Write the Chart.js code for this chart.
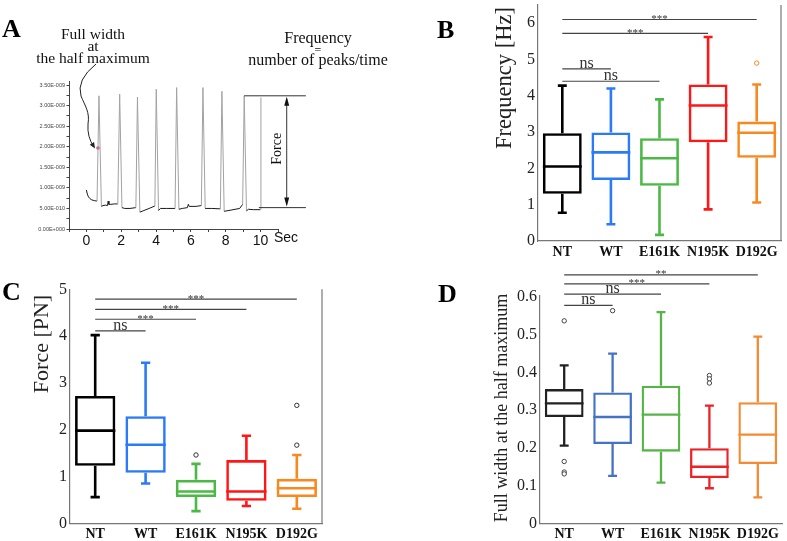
<!DOCTYPE html>
<html>
<head>
<meta charset="utf-8">
<script src="https://cdn.jsdelivr.net/npm/chart.js@4.4.1/dist/chart.umd.min.js"></script>
<style>
  body { margin: 0; background: #fff; }
  #wrap { position: relative; width: 787px; height: 541px; }
  canvas { position: absolute; }
</style>
</head>
<body>
<div id="wrap">
  <canvas id="cA" width="400" height="260" style="left:0;top:0"></canvas>
  <canvas id="cB" width="387" height="260" style="left:400px;top:0"></canvas>
  <canvas id="cC" width="400" height="281" style="left:0;top:260px"></canvas>
  <canvas id="cD" width="387" height="281" style="left:400px;top:260px"></canvas>
</div>
<script>
const groups = ['NT', 'WT', 'E161K', 'N195K', 'D192G'];

// Panel A: example trace, force in units of 1E-009
const traceTime = [0.00, 0.05, 0.12, 0.20, 0.30, 0.45, 0.61, 0.72, 0.86, 0.95, 1.10, 1.21, 1.25, 1.29, 1.40, 1.60, 1.80,
  1.91, 2.04, 2.20, 2.50, 2.84, 2.93, 3.07, 3.30, 3.60, 3.93, 4.01, 4.14, 4.25, 4.60, 5.09, 5.18, 5.31, 5.50, 5.80,
  5.85, 5.90, 6.30, 6.60, 6.69, 6.82, 7.20, 7.69, 7.78, 7.91, 8.30, 8.80, 8.97, 9.06, 9.19, 9.30, 9.60, 9.97, 10.02];
const traceForce = [0.95, 0.85, 0.78, 0.74, 0.71, 0.69, 0.68, 3.24, 0.55, 0.57, 0.58, 0.57, 0.68, 0.60, 0.60, 0.61, 0.61,
  3.28, 0.52, 0.50, 0.50, 0.52, 3.21, 0.41, 0.45, 0.50, 0.56, 3.40, 0.45, 0.50, 0.50, 0.50, 3.44, 0.48, 0.50, 0.52,
  0.60, 0.55, 0.55, 0.57, 3.44, 0.50, 0.50, 0.49, 3.35, 0.43, 0.46, 0.50, 0.60, 3.24, 0.44, 0.48, 0.47, 0.47, 3.20];
const halfMaxPoint = { x: 0.665, y: 1.97 };
const traceXTicks = [-1, 0, 1, 2, 3, 4, 5, 6, 7, 8, 9, 10, 11];
const traceXLabels = ['', '0', '', '2', '', '4', '', '6', '', '8', '', '10', ''];
const traceYTicks = [0, 0.25, 0.5, 0.75, 1, 1.25, 1.5, 1.75, 2, 2.25, 2.5, 2.75, 3, 3.25, 3.5];
const traceYLabels = ['0.00E+000', '', '5.00E-010', '', '1.00E-009', '', '1.50E-009', '', '2.00E-009', '',
  '2.50E-009', '', '3.00E-009', '', '3.50E-009'];

// Panel B: frequency [Hz]
const freqMin = [0.78, 0.46, 0.17, 0.87, 1.06];
const freqQ1 = [1.30, 1.68, 1.52, 2.72, 2.29];
const freqMed = [2.05, 2.44, 2.28, 3.73, 2.98];
const freqQ3 = [2.97, 2.99, 2.83, 4.31, 3.29];
const freqMax = [4.28, 4.20, 3.90, 5.62, 4.31];
const freqOutliers = [{ x: 'D192G', y: 4.90 }];
const freqTicks = [0, 1, 2, 3, 4, 5, 6];
const freqTickLabels = ['0', '1', '2', '3', '4', '5', '6'];
const freqSigTo = [4, 3, 1, 2];
const freqSigY = [6.10, 5.72, 4.74, 4.40];
const freqSigText = ['***', '***', 'ns', 'ns'];

// Panel C: force [PN]
const forceMin = [0.56, 0.85, 0.26, 0.37, 0.31];
const forceQ1 = [1.23, 1.08, 0.56, 0.48, 0.56];
const forceMed = [1.98, 1.68, 0.68, 0.68, 0.75];
const forceQ3 = [2.72, 2.29, 0.93, 1.35, 0.95];
const forceMax = [4.02, 3.43, 1.27, 1.87, 1.46];
const forceOutliers = [{ x: 'E161K', y: 1.46 }, { x: 'D192G', y: 2.52 }, { x: 'D192G', y: 1.67 }];
const forceTicks = [0, 1, 2, 3, 4, 5];
const forceTickLabels = ['0', '1', '2', '3', '4', '5'];
const forceSigTo = [4, 3, 2, 1];
const forceSigY = [4.79, 4.57, 4.36, 4.11];
const forceSigText = ['***', '***', '***', 'ns'];

// Panel D: full width at the half maximum
const fwhmMin = [0.206, 0.126, 0.108, 0.093, 0.069];
const fwhmQ1 = [0.282, 0.210, 0.190, 0.120, 0.157];
const fwhmMed = [0.318, 0.282, 0.288, 0.150, 0.235];
const fwhmQ3 = [0.356, 0.347, 0.365, 0.199, 0.321];
const fwhmMax = [0.419, 0.450, 0.560, 0.312, 0.495];
const fwhmOutliers = [{ x: 'NT', y: 0.537 }, { x: 'NT', y: 0.164 }, { x: 'NT', y: 0.136 }, { x: 'NT', y: 0.131 },
  { x: 'WT', y: 0.564 }, { x: 'N195K', y: 0.392 }, { x: 'N195K', y: 0.383 }, { x: 'N195K', y: 0.372 }];
const fwhmTicks = [0, 0.1, 0.2, 0.3, 0.4, 0.5, 0.6];
const fwhmTickLabels = ['0', '0.1', '0.2', '0.3', '0.4', '0.5', '0.6'];
const fwhmSigTo = [4, 3, 2, 1];
const fwhmSigY = [0.659, 0.635, 0.608, 0.578];
const fwhmSigText = ['**', '***', 'ns', 'ns'];

const serif = "'Liberation Serif', 'Times New Roman', serif";
const sans = "'Liberation Sans', Arial, sans-serif";
const brightColors = ['#000000', '#2b7bf7', '#4cb946', '#ff1616', '#f7891f'];
const softColors = ['#222222', '#4472c4', '#55b546', '#ec2227', '#f58a32'];

function drawLetter(ctx, ch, x, y) {
  ctx.save();
  ctx.font = `bold 26px ${serif}`;
  ctx.fillStyle = '#000';
  ctx.textAlign = 'left';
  ctx.textBaseline = 'alphabetic';
  ctx.fillText(ch, x, y);
  ctx.restore();
}

function arrowHead(ctx, x, y, ang, len, half) {
  ctx.beginPath();
  ctx.moveTo(x, y);
  ctx.lineTo(x - len * Math.cos(ang) + half * Math.sin(ang), y - len * Math.sin(ang) - half * Math.cos(ang));
  ctx.lineTo(x - len * Math.cos(ang) - half * Math.sin(ang), y - len * Math.sin(ang) + half * Math.cos(ang));
  ctx.closePath();
  ctx.fill();
}

// ---------- Panel A ----------
const annotA = {
  id: 'annotA',
  afterDraw(chart) {
    const { ctx, scales: { x, y } } = chart;
    ctx.save();
    ctx.fillStyle = '#111';
    ctx.textAlign = 'center';
    ctx.textBaseline = 'middle';
    ctx.font = `15.5px ${serif}`;
    ctx.fillText('Full width', 93, 35);
    ctx.fillText('at', 93, 47);
    ctx.fillText('the half maximum', 93, 59);
    ctx.font = `16px ${serif}`;
    ctx.fillText('Frequency', 318, 39);
    ctx.fillText('number of peaks/time', 318, 61);
    ctx.font = `12px ${serif}`;
    ctx.fillText('=', 318, 51);

    // curved arrow to the half-maximum point
    const ex = x.getPixelForValue(halfMaxPoint.x) - 4;
    const ey = y.getPixelForValue(halfMaxPoint.y) - 1;
    ctx.strokeStyle = '#222';
    ctx.lineWidth = 1;
    ctx.beginPath();
    ctx.moveTo(96, 64);
    ctx.quadraticCurveTo(76, 80, 81, 96);
    ctx.bezierCurveTo(85, 106, 90, 112, 88, 124);
    ctx.quadraticCurveTo(87, 137, ex, ey);
    ctx.stroke();
    ctx.fillStyle = '#222';
    arrowHead(ctx, ex + 1, ey + 1.5, Math.atan2(ey - 137, ex - 88), 6, 2.5);

    // force bracket
    const yTop = y.getPixelForValue(3.24), yBot = y.getPixelForValue(0.52);
    ctx.strokeStyle = '#333';
    ctx.beginPath();
    ctx.moveTo(x.getPixelForValue(9.06), yTop); ctx.lineTo(x.getPixelForValue(12.6), yTop);
    ctx.moveTo(x.getPixelForValue(9.9), yBot); ctx.lineTo(x.getPixelForValue(12.6), yBot);
    const ax = x.getPixelForValue(11.5);
    ctx.moveTo(ax, yTop + 3); ctx.lineTo(ax, yBot - 3);
    ctx.stroke();
    ctx.fillStyle = '#111';
    arrowHead(ctx, ax, yTop + 1, -Math.PI / 2, 9, 2.5);
    arrowHead(ctx, ax, yBot - 1, Math.PI / 2, 9, 2.5);
    ctx.save();
    ctx.translate(x.getPixelForValue(10.95), y.getPixelForValue(1.95));
    ctx.rotate(-Math.PI / 2);
    ctx.font = `14px ${serif}`;
    ctx.fillText('Force', 0, 0);
    ctx.restore();

    ctx.font = `14px ${sans}`;
    ctx.fillStyle = '#111';
    ctx.fillText('Sec', 286, 238.5);
    ctx.restore();
    drawLetter(ctx, 'A', 2, 37);
  }
};

new Chart(document.getElementById('cA'), {
  type: 'line',
  data: {
    datasets: [{
      data: traceTime.map((t, i) => ({ x: t, y: traceForce[i] })),
      borderWidth: 1,
      pointRadius: 0,
      tension: 0,
      segment: {
        borderColor: c => (c.p0.parsed.y < 1 && c.p1.parsed.y < 1) ? '#1a1a1a' : '#a2a2a2'
      }
    }, {
      data: [halfMaxPoint],
      showLine: false,
      pointRadius: 1.8,
      pointBorderWidth: 0,
      pointBackgroundColor: '#e23c8c'
    }]
  },
  options: {
    responsive: false,
    animation: false,
    layout: { padding: { left: 0, top: 81, right: 122, bottom: 0 } },
    plugins: { legend: { display: false }, tooltip: { enabled: false } },
    scales: {
      x: {
        type: 'linear', min: -1, max: 11,
        afterBuildTicks: s => { s.ticks = traceXTicks.map(v => ({ value: v })); },
        afterFit: s => { s.height = 31; s.paddingLeft = 0; s.paddingRight = 0; },
        grid: { display: true, drawOnChartArea: false, drawTicks: true, tickLength: 3, color: '#444' },
        border: { display: true, color: '#444', width: 1 },
        ticks: { padding: 1, color: '#111', font: { family: sans, size: 14 }, maxRotation: 0, autoSkip: false,
          callback: (v, i) => traceXLabels[i] }
      },
      y: {
        min: 0, max: 3.6,
        afterBuildTicks: s => { s.ticks = traceYTicks.map(v => ({ value: v })); },
        afterFit: s => { s.width = 69; s.paddingTop = 0; s.paddingBottom = 0; },
        grid: { display: true, drawOnChartArea: false, drawTicks: true, tickLength: 2.5, color: '#444' },
        border: { display: true, color: '#444', width: 1 },
        ticks: { padding: 1.5, color: '#444', font: { family: sans, size: 5.5 }, autoSkip: false,
          callback: (v, i) => traceYLabels[i] }
      }
    }
  },
  plugins: [annotA]
});

// ---------- Box plot panels ----------
function boxChart(id, s) {
  const canvas = document.getElementById(id);
  const W = canvas.width, H = canvas.height;
  const extras = {
    id: 'extras',
    afterDatasetsDraw(chart) {
      const { ctx, scales: { x, y }, chartArea } = chart;
      const bars = chart.getDatasetMeta(0).data;
      ctx.save();
      ctx.lineWidth = s.lw;
      bars.forEach((bar, i) => {
        const cx = bar.x, hw = bar.width / 2, cw = bar.width * 0.115;
        const yMin = y.getPixelForValue(s.min[i]), yMax = y.getPixelForValue(s.max[i]);
        const yQ1 = y.getPixelForValue(s.q1[i]), yQ3 = y.getPixelForValue(s.q3[i]);
        const yMed = y.getPixelForValue(s.med[i]);
        ctx.strokeStyle = s.colors[i];
        ctx.beginPath();
        ctx.moveTo(cx, yQ3); ctx.lineTo(cx, yMax);
        ctx.moveTo(cx - cw, yMax); ctx.lineTo(cx + cw, yMax);
        ctx.moveTo(cx, yQ1); ctx.lineTo(cx, yMin);
        ctx.moveTo(cx - cw, yMin); ctx.lineTo(cx + cw, yMin);
        ctx.moveTo(cx - hw, yMed); ctx.lineTo(cx + hw, yMed);
        ctx.stroke();
      });

      // significance bars
      ctx.strokeStyle = '#444';
      ctx.lineWidth = 1.2;
      ctx.fillStyle = '#333';
      ctx.textAlign = 'center';
      ctx.textBaseline = 'alphabetic';
      s.sigTo.forEach((t, k) => {
        const x0 = x.getPixelForValue(0), x1 = x.getPixelForValue(t);
        const yy = y.getPixelForValue(s.sigY[k]);
        ctx.beginPath(); ctx.moveTo(x0, yy); ctx.lineTo(x1, yy); ctx.stroke();
        const star = s.sigText[k] !== 'ns';
        ctx.font = star ? `11px ${serif}` : `16px ${serif}`;
        ctx.fillText(s.sigText[k], (x0 + x1) / 2, star ? yy + 2.5 : yy - 1);
      });

      if (s.rightBorder) {
        ctx.strokeStyle = '#777';
        ctx.lineWidth = 1.2;
        ctx.beginPath();
        ctx.moveTo(chartArea.right, chartArea.top);
        ctx.lineTo(chartArea.right, chartArea.bottom);
        ctx.stroke();
      }

      ctx.save();
      ctx.translate(s.titleX, s.titleY);
      ctx.rotate(-Math.PI / 2);
      ctx.font = `${s.titleSize}px ${serif}`;
      ctx.fillStyle = '#222';
      ctx.textBaseline = 'middle';
      ctx.fillText(s.title, 0, 0);
      ctx.restore();
      ctx.restore();
      drawLetter(ctx, s.letter, s.letterX, s.letterY);
    }
  };

  return new Chart(canvas, {
    data: {
      labels: groups,
      datasets: [{
        type: 'bar',
        data: s.q1.map((q, i) => [q, s.q3[i]]),
        backgroundColor: 'rgba(255,255,255,0)',
        borderColor: s.colors,
        borderWidth: s.lw,
        borderSkipped: false,
        barPercentage: 0.8,
        categoryPercentage: 1
      }, {
        type: 'line',
        data: s.outliers,
        showLine: false,
        pointRadius: 2.2,
        pointBorderWidth: 1,
        pointBackgroundColor: '#fff',
        pointBorderColor: s.outliers.map(p => s.outlierColor || s.colors[groups.indexOf(p.x)])
      }]
    },
    options: {
      responsive: false,
      animation: false,
      layout: { padding: { left: 0, top: s.area.top, right: W - s.area.right, bottom: 0 } },
      plugins: { legend: { display: false }, tooltip: { enabled: false } },
      scales: {
        x: {
          type: 'category', offset: true,
          afterFit: sc => { sc.height = H - s.area.bottom; sc.paddingLeft = 0; sc.paddingRight = 0; },
          grid: { display: false, drawTicks: false },
          border: { display: true, color: '#777', width: 1.2 },
          ticks: { padding: 3, color: '#111', font: { family: serif, size: 14, weight: 'bold' }, maxRotation: 0 }
        },
        y: {
          min: 0, max: s.ymax,
          afterBuildTicks: sc => { sc.ticks = s.ticks.map(v => ({ value: v })); },
          afterFit: sc => { sc.width = s.area.left; sc.paddingTop = 0; sc.paddingBottom = 0; },
          grid: { display: false, drawTicks: false },
          border: { display: true, color: '#777', width: 1.2 },
          ticks: { padding: 3, color: '#222', font: { family: serif, size: 16 }, autoSkip: false,
            callback: (v, i) => s.tickLabels[i] }
        }
      }
    },
    plugins: [extras]
  });
}

boxChart('cB', {
  min: freqMin, q1: freqQ1, med: freqMed, q3: freqQ3, max: freqMax, outliers: freqOutliers,
  ticks: freqTicks, tickLabels: freqTickLabels, ymax: 6.5,
  sigTo: freqSigTo, sigY: freqSigY, sigText: freqSigText,
  colors: brightColors, lw: 2.6, rightBorder: true,
  area: { left: 138, right: 381, top: 0, bottom: 241 },
  title: 'Frequency [Hz]', titleSize: 22.5, titleX: 105, titleY: 78,
  letter: 'B', letterX: 37, letterY: 38
});

boxChart('cC', {
  min: forceMin, q1: forceQ1, med: forceMed, q3: forceQ3, max: forceMax, outliers: forceOutliers,
  ticks: forceTicks, tickLabels: forceTickLabels, ymax: 5, outlierColor: '#333',
  sigTo: forceSigTo, sigY: forceSigY, sigText: forceSigText,
  colors: brightColors, lw: 2.6, rightBorder: true,
  area: { left: 70, right: 322, top: 29.3, bottom: 263.3 },
  title: 'Force [PN]', titleSize: 22, titleX: 42, titleY: 84,
  letter: 'C', letterX: 2, letterY: 40
});

boxChart('cD', {
  min: fwhmMin, q1: fwhmQ1, med: fwhmMed, q3: fwhmQ3, max: fwhmMax, outliers: fwhmOutliers,
  ticks: fwhmTicks, tickLabels: fwhmTickLabels, ymax: 0.605, outlierColor: '#444',
  sigTo: fwhmSigTo, sigY: fwhmSigY, sigText: fwhmSigText,
  colors: softColors, lw: 2.3, rightBorder: false,
  area: { left: 140, right: 384, top: 35.2, bottom: 263.3 },
  title: 'Full width at the half maximum', titleSize: 18, titleX: 102, titleY: 148,
  letter: 'D', letterX: 38, letterY: 42
});
</script>
</body>
</html>
